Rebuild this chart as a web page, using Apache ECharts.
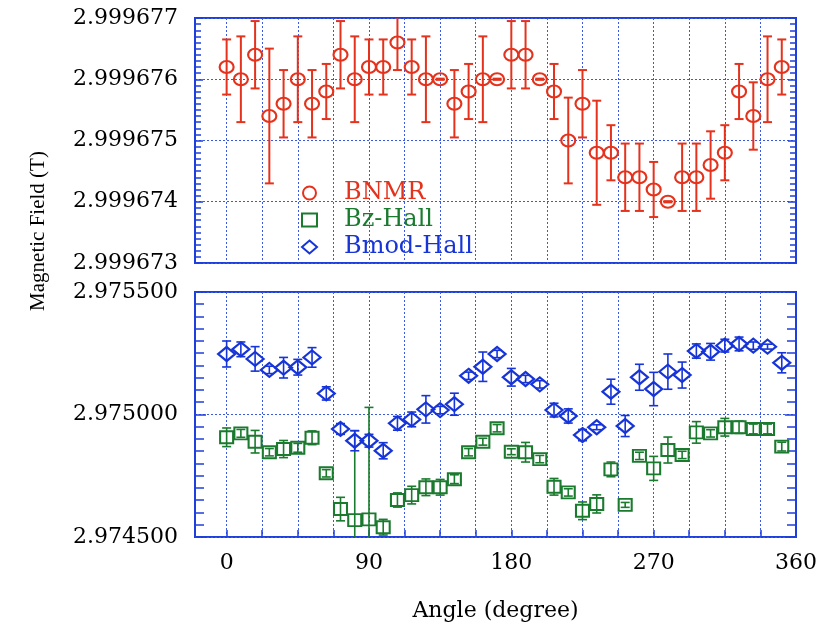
<!DOCTYPE html>
<html><head><meta charset="utf-8">
<script src="https://cdn.jsdelivr.net/npm/echarts@6/dist/echarts.min.js"></script>
<style>html,body{margin:0;padding:0;background:#fff}#c{width:827px;height:630px}</style>
</head><body><div id="c"></div>
<script>
// ---- data ----
const angles = [0,9,18,27,36,45,54,63,72,81,90,99,108,117,126,135,144,153,162,171,180,189,198,207,216,225,234,243,252,261,270,279,288,297,306,315,324,333,342,351];
const bnmr = [2.9996762,2.9996760,2.9996764,2.9996754,2.9996756,2.9996760,2.9996756,2.9996758,2.9996764,2.9996760,2.9996762,2.9996762,2.9996766,2.9996762,2.9996760,2.9996760,2.9996756,2.9996758,2.9996760,2.9996760,2.9996764,2.9996764,2.9996760,2.9996758,2.9996750,2.9996756,2.9996748,2.9996748,2.9996744,2.9996744,2.9996742,2.9996740,2.9996744,2.9996744,2.9996746,2.9996748,2.9996758,2.9996754,2.9996760,2.9996762];
const bnmrErr = [4.5e-7,7e-7,5.5e-7,11e-7,5.5e-7,7e-7,5.5e-7,4.5e-7,5.5e-7,7e-7,4.5e-7,4.5e-7,4.5e-7,4.5e-7,7e-7,0.1e-7,5.5e-7,4.5e-7,7e-7,0.1e-7,5.5e-7,5.5e-7,0.1e-7,4.5e-7,7e-7,5.5e-7,8.5e-7,4.5e-7,5.5e-7,5.5e-7,4.5e-7,0.1e-7,5.5e-7,5.5e-7,5.5e-7,4.5e-7,4.5e-7,5.5e-7,7e-7,4.5e-7];
const bz = [2.974907,2.974923,2.974889,2.974846,2.974859,2.974864,2.974905,2.974760,2.974614,2.974569,2.974572,2.974540,2.974651,2.974671,2.974703,2.974703,2.974736,2.974846,2.974889,2.974944,2.974848,2.974846,2.974818,2.974705,2.974682,2.974607,2.974635,2.974776,2.974631,2.974831,2.974780,2.974855,2.974835,2.974927,2.974923,2.974948,2.974948,2.974941,2.974941,2.974869];
const bzErr = [38e-6,16e-6,46e-6,15e-6,35e-6,18e-6,28e-6,15e-6,48e-6,365e-6,457e-6,32e-6,29e-6,36e-6,34e-6,32e-6,18e-6,15e-6,14e-6,15e-6,12e-6,40e-6,15e-6,34e-6,15e-6,36e-6,37e-6,30e-6,10e-6,15e-6,49e-6,53e-6,15e-6,44e-6,15e-6,36e-6,25e-6,20e-6,20e-6,18e-6];
const bmod = [2.975247,2.975266,2.975227,2.975182,2.975191,2.975193,2.975233,2.975086,2.974941,2.974893,2.974893,2.974852,2.974964,2.974980,2.975021,2.975018,2.975042,2.975158,2.975195,2.975247,2.975152,2.975145,2.975123,2.975018,2.974994,2.974916,2.974948,2.975093,2.974953,2.975152,2.975104,2.975175,2.975161,2.975259,2.975256,2.975281,2.975288,2.975281,2.975277,2.975211];
const bmodErr = [53e-6,30e-6,50e-6,15e-6,42e-6,32e-6,40e-6,27e-6,22e-6,41e-6,26e-6,33e-6,28e-6,30e-6,56e-6,15e-6,45e-6,15e-6,60e-6,15e-6,36e-6,15e-6,15e-6,28e-6,29e-6,23e-6,10e-6,51e-6,43e-6,53e-6,68e-6,72e-6,53e-6,29e-6,34e-6,26e-6,28e-6,15e-6,10e-6,41e-6];
const xLabelValues = [0,90,180,270,360];
const xGridValues = [0,22.5,45,67.5,90,112.5,135,157.5,180,202.5,225,247.5,270,292.5,315,337.5];
const seriesNames = ['BNMR','Bz-Hall','Bmod-Hall'];

// ---- style ----
const RED = '#e5321c', GREEN = '#1a7a2e', BLUE = '#1634d8';
const FRAME = '#1f3fdc', GRIDC = '#3a5ae6';
const SERIF = 'DejaVu Serif';

function errBar(color, lw, cap) {
  return function (params, api) {
    const x = api.value(0);
    const p1 = api.coord([x, api.value(1)]);
    const p2 = api.coord([x, api.value(2)]);
    const style = { stroke: color, lineWidth: lw, fill: null };
    return { type: 'group', children: [
      { type: 'line', shape: { x1: p1[0], y1: p1[1], x2: p2[0], y2: p2[1] }, style },
      { type: 'line', shape: { x1: p1[0] - cap, y1: p1[1], x2: p1[0] + cap, y2: p1[1] }, style },
      { type: 'line', shape: { x1: p2[0] - cap, y1: p2[1], x2: p2[0] + cap, y2: p2[1] }, style }
    ]};
  };
}
function errData(v, e) { return angles.map((a, i) => [a, v[i] - e[i], v[i] + e[i]]); }
function ptData(v) { return angles.map((a, i) => [a, v[i]]); }

function xAxisDef(gi, showLabels) {
  return {
    type: 'value', gridIndex: gi, min: -20, max: 360,
    axisLine: { show: false, onZero: false },
    axisTick: { show: showLabels, inside: true, length: 7, customValues: xGridValues, lineStyle: { color: FRAME, width: 1.5 } },
    axisLabel: { show: showLabels, customValues: xLabelValues, margin: 15, color: '#000', fontFamily: SERIF, fontSize: 22 },
    splitLine: { show: true, lineStyle: { color: GRIDC, width: 1, type: [2, 2] } },
    name: showLabels ? 'Angle (degree)' : '', nameLocation: 'middle', nameGap: 63,
    nameTextStyle: { color: '#000', fontFamily: SERIF, fontSize: 22 }
  };
}
function yAxisDef(gi, min, max, interval, pos, majLen, minLen, showLabels) {
  return {
    type: 'value', gridIndex: gi, min, max, interval, position: pos,
    axisLine: { show: false, onZero: false },
    axisTick: { show: true, inside: true, length: majLen, lineStyle: { color: FRAME, width: 1.5 } },
    minorTick: { show: true, splitNumber: 10, length: minLen, lineStyle: { color: FRAME, width: 1.5 } },
    axisLabel: { show: showLabels, margin: 17, color: '#000', fontFamily: SERIF, fontSize: 22, formatter: v => v.toFixed(6) },
    splitLine: { show: pos === 'left', lineStyle: { color: GRIDC, width: 1, type: [2, 2] } }
  };
}

const chart = echarts.init(document.getElementById('c'), null, { renderer: 'canvas' });
chart.setOption({
  backgroundColor: '#fff',
  animation: false,
  grid: [
    { left: 195, top: 18, width: 601, height: 245, show: true, borderColor: FRAME, borderWidth: 2, backgroundColor: 'transparent' },
    { left: 195, top: 292, width: 601, height: 245, show: true, borderColor: FRAME, borderWidth: 2, backgroundColor: 'transparent' }
  ],
  xAxis: [xAxisDef(0, false), xAxisDef(1, true)],
  yAxis: [
    yAxisDef(0, 2.999673, 2.999677, 0.000001, 'left', 8, 6, true),
    yAxisDef(1, 2.9745, 2.9755, 0.0005, 'left', 11, 9, true),
    yAxisDef(0, 2.999673, 2.999677, 0.000001, 'right', 8, 6, false),
    yAxisDef(1, 2.9745, 2.9755, 0.0005, 'right', 11, 9, false)
  ],
  legend: {
    orient: 'vertical', left: 301, top: 181, padding: 0, itemGap: 3,
    itemWidth: 15, itemHeight: 13, selectedMode: false,
    textStyle: { fontFamily: SERIF, fontSize: 24, padding: [0, 0, 0, 22] },
    data: [
      { name: seriesNames[0], textStyle: { color: RED } },
      { name: seriesNames[1], textStyle: { color: GREEN } },
      { name: seriesNames[2], textStyle: { color: BLUE } }
    ]
  },
  graphic: [{
    type: 'text', x: 38, y: 231, rotation: Math.PI / 2,
    style: { text: 'Magnetic Field (T)', fill: '#000', font: '21px "Liberation Serif"', align: 'center', verticalAlign: 'middle' }
  }],
  series: [
    { type: 'custom', name: 'bnmr-err', xAxisIndex: 0, yAxisIndex: 0, clip: true, z: 1,
      renderItem: errBar(RED, 2, 4.5), encode: { x: 0, y: [1, 2] }, data: errData(bnmr, bnmrErr) },
    { type: 'custom', name: 'bz-err', xAxisIndex: 1, yAxisIndex: 1, clip: true, z: 1,
      renderItem: errBar(GREEN, 1.6, 4.5), encode: { x: 0, y: [1, 2] }, data: errData(bz, bzErr) },
    { type: 'custom', name: 'bmod-err', xAxisIndex: 1, yAxisIndex: 1, clip: true, z: 1,
      renderItem: errBar(BLUE, 1.6, 4.5), encode: { x: 0, y: [1, 2] }, data: errData(bmod, bmodErr) },
    { type: 'scatter', name: seriesNames[0], xAxisIndex: 0, yAxisIndex: 0, z: 3,
      symbol: 'circle', symbolSize: [14, 12],
      itemStyle: { color: 'rgba(255,255,255,0)', borderColor: RED, borderWidth: 2, opacity: 1 },
      data: ptData(bnmr) },
    { type: 'scatter', name: seriesNames[1], xAxisIndex: 1, yAxisIndex: 1, z: 3,
      symbol: 'rect', symbolSize: [13, 12],
      itemStyle: { color: 'rgba(255,255,255,0)', borderColor: GREEN, borderWidth: 2, opacity: 1 },
      data: ptData(bz) },
    { type: 'scatter', name: seriesNames[2], xAxisIndex: 1, yAxisIndex: 1, z: 3,
      symbol: 'diamond', symbolSize: [17, 14],
      itemStyle: { color: 'rgba(255,255,255,0)', borderColor: BLUE, borderWidth: 2.2, opacity: 1 },
      data: ptData(bmod) }
  ]
});
</script>
</body></html>
